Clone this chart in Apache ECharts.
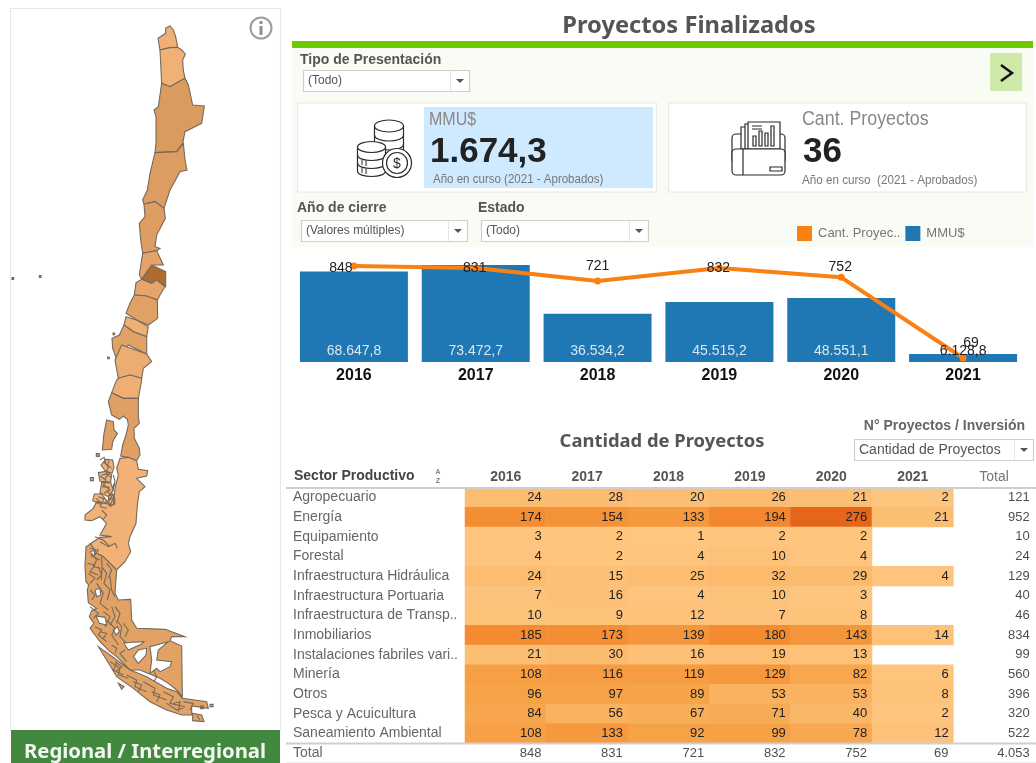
<!DOCTYPE html>
<html>
<head>
<meta charset="utf-8">
<title>Proyectos Finalizados</title>
<script src="https://cdn.jsdelivr.net/npm/echarts@6/dist/echarts.min.js"></script>
<style>
  html, body { margin: 0; padding: 0; background: #fff; }
  #main { width: 1036px; height: 763px; }
</style>
</head>
<body>
<div id="main"></div>
<script>
const years = ['2016', '2017', '2018', '2019', '2020', '2021']
const mmu = [68647.8, 73472.7, 36534.2, 45515.2, 48551.1, 6128.8]
const cantProyectos = [848, 831, 721, 832, 752, 69]

const sectores = [
  'Agropecuario', 'Energía', 'Equipamiento', 'Forestal', 'Infraestructura Hidráulica',
  'Infraestructura Portuaria', 'Infraestructura de Transp..', 'Inmobiliarios',
  'Instalaciones fabriles vari..', 'Minería', 'Otros', 'Pesca y Acuicultura', 'Saneamiento Ambiental'
]
const s2016 = [24, 174, 3, 4, 24, 7, 10, 185, 21, 108, 96, 84, 108]
const s2017 = [28, 154, 2, 2, 15, 16, 9, 173, 30, 116, 97, 56, 133]
const s2018 = [20, 133, 1, 4, 25, 4, 12, 139, 16, 119, 89, 67, 92]
const s2019 = [26, 194, 2, 10, 32, 10, 7, 180, 19, 129, 53, 71, 99]
const s2020 = [21, 276, 2, 4, 29, 3, 8, 143, 13, 82, 53, 40, 78]
const s2021 = [2, 21, null, null, 4, null, null, 14, null, 6, 8, 2, 12]
const totalSector = [121, 952, 10, 24, 129, 40, 46, 834, 99, 560, 396, 320, 522]
const totalAnio = [848, 831, 721, 832, 752, 69]
const totalGeneral = 4053

// valores estimados por el color de cada region
const regiones = ['Arica y Parinacota', 'Tarapacá', 'Antofagasta', 'Atacama', 'Coquimbo', 'Valparaíso',
  'Metropolitana', "O'Higgins", 'Maule', 'Ñuble', 'Biobío', 'La Araucanía', 'Los Ríos', 'Los Lagos', 'Aysén', 'Magallanes']
const regionValores = [110, 100, 360, 340, 330, 250, 900, 230, 290, 130, 280, 150, 130, 300, 90, 280]

// contornos del mapa, calcados a escala 3x; en el sur y lleva 1140 sumado
const contornos = {
  'Arica y Parinacota': [[[497, 100], [497, 84], [510, 78], [520, 90], [527, 110], [533, 142], [510, 143], [480, 150], [474, 115]]],
  'Tarapacá': [[[480, 150], [510, 143], [533, 142], [545, 150], [556, 162], [548, 180], [550, 212], [555, 235], [510, 260], [485, 250], [483, 210]]],
  'Antofagasta': [[[485, 250], [510, 260], [555, 235], [565, 255], [578, 315], [613, 318], [605, 370], [555, 395], [548, 430], [530, 455], [465, 458], [468, 430], [468, 350], [462, 330], [475, 320]]],
  'Atacama': [[[465, 458], [530, 455], [550, 430], [555, 480], [561, 510], [540, 515], [510, 570], [492, 625], [465, 605], [432, 612], [428, 600], [442, 570], [450, 520]]],
  'Coquimbo': [[[432, 612], [465, 605], [492, 625], [496, 655], [470, 705], [465, 740], [480, 745], [470, 752], [428, 760], [422, 720], [418, 670], [435, 650]]],
  'Valparaíso': [[[428, 760], [470, 752], [490, 795], [460, 795], [445, 830], [425, 838], [418, 825]]],
  'Metropolitana': [[[455, 795], [497, 815], [497, 860], [470, 840], [455, 850], [425, 838]]],
  "O'Higgins": [[[408, 848], [425, 838], [455, 850], [470, 840], [495, 860], [480, 885], [472, 900], [440, 888], [403, 885]]],
  'Maule': [[[403, 885], [440, 888], [472, 900], [473, 955], [445, 975], [410, 960], [378, 940], [390, 910]]],
  'Ñuble': [[[378, 950], [410, 960], [445, 980], [440, 1010], [400, 995], [372, 975]]],
  'Biobío': [[[372, 975], [400, 995], [440, 1010], [440, 1062], [385, 1035], [350, 1078], [338, 1045], [336, 1015], [358, 1005]], [[339, 999], [344, 999], [344, 1004], [339, 1004]], [[323, 1071], [328, 1071], [328, 1076], [323, 1076]]],
  'La Araucanía': [[[365, 1035], [440, 1062], [455, 1085], [430, 1105], [425, 1135], [390, 1125], [355, 1135], [345, 1080]]],
  'Los Ríos': [[[355, 1135], [390, 1125], [425, 1135], [425, 1140], [415, 1195], [370, 1195], [335, 1178], [350, 1140]]],
  'Los Lagos': [
    [[335, 1178], [370, 1195], [415, 1195], [415, 1250], [418, 1270], [402, 1285], [403, 1315], [418, 1345], [420, 1365], [410, 1382], [385, 1372], [362, 1368], [368, 1335], [378, 1305], [385, 1275], [382, 1258], [370, 1248], [358, 1258], [335, 1245], [325, 1205]],
    [[320, 1260], [340, 1265], [342, 1290], [352, 1300], [338, 1325], [335, 1348], [307, 1350], [312, 1300]],
    [[289, 1361], [298, 1361], [298, 1369], [289, 1369]]
  ],
  'Aysén': [
    [[360, 1375], [385, 1372], [410, 1382], [415, 1408], [443, 1412], [440, 1428], [410, 1435], [435, 1460], [418, 1475], [412, 1515], [408, 1570], [390, 1610], [385, 1630], [392, 1655], [375, 1685], [350, 1710], [310, 1670], [290, 1660], [270, 1632], [300, 1612], [335, 1610], [300, 1605], [320, 1570], [300, 1550], [275, 1562], [255, 1560], [255, 1545], [280, 1525], [290, 1505], [340, 1515], [345, 1465], [355, 1425], [350, 1405]],
    [[318, 1378], [338, 1380], [342, 1402], [336, 1420], [315, 1412], [303, 1395]],
    [[295, 1418], [318, 1414], [335, 1425], [332, 1446], [300, 1444]],
    [[305, 1448], [332, 1448], [340, 1470], [325, 1490], [300, 1478]],
    [[283, 1482], [305, 1482], [322, 1505], [300, 1512], [278, 1502]],
    [[325, 1488], [342, 1482], [345, 1512], [328, 1518]],
    [[271, 1433], [280, 1433], [280, 1442], [271, 1442]]
  ],
  'Magallanes': [
    [
      [[258, 1640], [272, 1632], [290, 1660], [310, 1670], [350, 1710], [345, 1780], [355, 1800], [392, 1798], [395, 1860], [410, 1885], [495, 1888], [555, 1910], [515, 1910], [510, 1922], [545, 1938], [547, 2090], [530, 2070], [505, 2050], [480, 2035], [420, 2010], [390, 2010], [350, 1970], [330, 1955], [300, 1925], [285, 1905], [270, 1885], [282, 1870], [268, 1850], [275, 1832], [290, 1825], [265, 1808], [262, 1770], [266, 1755], [258, 1745], [255, 1700]],
      [[375, 1935], [385, 1950], [425, 1932], [432, 1925], [372, 1928]],
      [[400, 1970], [415, 1990], [438, 1965], [440, 1945], [415, 1950]],
      [[450, 1940], [455, 1980], [450, 2020], [470, 2005], [480, 2015], [510, 2000], [515, 1985], [470, 1980], [475, 1950], [505, 1925]],
      [[285, 1770], [290, 1790], [302, 1785], [300, 1765]],
      [[288, 1848], [298, 1870], [320, 1875], [315, 1852]],
      [[340, 1890], [348, 1905], [358, 1895], [352, 1880]],
      [[272, 1655], [276, 1670], [284, 1665], [282, 1650]]
    ],
    [[[295, 1940], [330, 1965], [390, 2010], [440, 2030], [500, 2065], [530, 2075], [547, 2095], [620, 2105], [625, 2125], [575, 2118], [575, 2145], [545, 2145], [500, 2130], [450, 2105], [400, 2065], [350, 2030], [320, 1980]]],
    [[[578, 2140], [605, 2145], [612, 2165], [578, 2162]]],
    [[[630, 2113], [639, 2113], [639, 2120], [630, 2120]]],
    [[[602, 2118], [610, 2118], [610, 2126], [602, 2126]]],
    [[[355, 2050], [372, 2060], [365, 2068]]]
  ]
}
// dos puntos de las islas oceanicas, dibujados con Valparaíso
const islas = [[[36, 833], [41, 833], [41, 838], [36, 838]], [[118, 827], [123, 827], [123, 832], [118, 832]]]

// canales y fiordos del sur
const fiordos = [
  [[310, 1385], [325, 1400], [318, 1420], [333, 1432]], [[300, 1428], [318, 1440], [308, 1460], [328, 1462]],
  [[320, 1470], [335, 1490], [320, 1505], [335, 1520]], [[295, 1490], [312, 1496], [300, 1520], [320, 1525]],
  [[345, 1450], [335, 1480], [345, 1500]], [[328, 1382], [322, 1395], [334, 1405]], [[305, 1425], [325, 1422], [315, 1436]],
  [[312, 1455], [330, 1470], [312, 1480]], [[288, 1495], [300, 1505], [285, 1510]], [[300, 1380], [312, 1372], [318, 1390]],
  [[340, 1425], [345, 1445], [338, 1462]], [[326, 1500], [340, 1495], [332, 1512]], [[305, 1530], [320, 1545], [308, 1560]],
  [[270, 1645], [295, 1650], [280, 1670], [300, 1680]], [[262, 1690], [285, 1695], [270, 1715], [295, 1725]],
  [[300, 1625], [325, 1640], [345, 1630], [352, 1645]], [[285, 1610], [310, 1620], [330, 1640]], [[270, 1770], [285, 1785], [275, 1800]],
  [[305, 1700], [320, 1720], [312, 1750], [330, 1770], [322, 1800]], [[330, 1730], [335, 1770], [345, 1790]],
  [[290, 1750], [310, 1780], [300, 1810], [325, 1830]], [[285, 1880], [305, 1890], [295, 1905], [320, 1925]],
  [[320, 1860], [345, 1885], [335, 1905], [355, 1935]], [[350, 1860], [365, 1880], [360, 1910], [380, 1930]],
  [[370, 1870], [385, 1890], [375, 1910]], [[345, 1820], [360, 1840], [350, 1870]],
  [[305, 1670], [306, 1700], [304, 1740]], [[275, 1660], [290, 1680], [280, 1700], [300, 1705]],
  [[265, 1720], [285, 1735], [270, 1750]], [[295, 1700], [305, 1725], [290, 1740]], [[320, 1690], [335, 1710], [325, 1735]],
  [[270, 1820], [295, 1840], [280, 1855]], [[310, 1835], [330, 1850], [315, 1880]], [[335, 1820], [345, 1850], [330, 1875]],
  [[300, 1895], [320, 1900], [310, 1915]], [[335, 1935], [350, 1945], [345, 1960]], [[375, 1950], [360, 1960], [380, 1985]],
  [[330, 1985], [360, 2005], [355, 2025], [385, 2035]], [[380, 2025], [410, 2040], [405, 2060], [440, 2075]],
  [[430, 2045], [465, 2065], [460, 2085], [500, 2100]], [[490, 2075], [520, 2090], [510, 2110], [555, 2120]],
  [[550, 2105], [580, 2110], [570, 2130]], [[500, 2110], [530, 2130], [550, 2125]], [[345, 1985], [365, 2000], [350, 2012]],
  [[400, 2045], [425, 2055], [415, 2075]], [[455, 2075], [480, 2085], [470, 2105]], [[520, 2110], [540, 2105], [535, 2135]],
  [[460, 2010], [470, 2030], [462, 2045]], [[590, 2145], [600, 2160]], [[350, 1990], [340, 2010], [370, 2025]]
]

function chileGeo() {
  const toPx = (p) => [p[0] / 3, p[1] / 3]
  const ring = (r) => r.map(toPx)
  const features = regiones.map((name) => {
    const shapes = contornos[name]
    // un poligono simple es lista de puntos, con hoyos es lista de anillos
    const polys = shapes.map((s) => (typeof s[0][0] === 'number' ? [ring(s)] : s.map(ring)))
    if (name === 'Valparaíso') islas.forEach((s) => polys.push([ring(s)]))
    return { type: 'Feature', properties: { name }, geometry: { type: 'MultiPolygon', coordinates: polys } }
  })
  features.push({
    type: 'Feature',
    properties: { name: 'Fiordos' },
    geometry: { type: 'MultiLineString', coordinates: fiordos.map(ring) }
  })
  return { type: 'FeatureCollection', features }
}

const numero = (v, dec) => v.toLocaleString('es-CL', { minimumFractionDigits: dec, maximumFractionDigits: dec })

// elementos de la pagina
const TINTA = '#2b2b2b'
function txt(text, x, y, font, fill, align, angosto) {
  const el = { type: 'text', style: { text, x, y, font, fill, align: align || 'left', verticalAlign: 'middle' } }
  if (angosto) {
    el.scaleX = angosto
    el.originX = x
  }
  return el
}
function box(x, y, w, h, fill, stroke, r) {
  return { type: 'rect', shape: { x, y, width: w, height: h, r: r || 0 }, style: { fill, stroke: stroke || null, lineWidth: 1.2 } }
}
function line(x1, y1, x2, y2, stroke, width, z) {
  return { type: 'line', z: z || 0, shape: { x1, y1, x2, y2 }, style: { stroke, lineWidth: width } }
}
function combo(x, y, w, h, label, font) {
  return [
    box(x + 0.5, y + 0.5, w, h, '#fff', '#cfcfcf'),
    line(x + w - 18.5, y + 1, x + w - 18.5, y + h, '#e4e4e4', 1),
    { type: 'polygon', shape: { points: [[x + w - 13, y + 9], [x + w - 5, y + 9], [x + w - 9, y + 13]] }, style: { fill: '#555' } },
    txt(label, x + 5, y + h / 2 + 0.5, font || '12px "Liberation Sans"', '#555')
  ]
}
// curva inferior de un disco de la pila de monedas
function disco(cx, rx, y, ry) {
  return {
    type: 'bezierCurve',
    shape: { x1: cx - rx, y1: y, x2: cx + rx, y2: y, cpx1: cx - rx, cpy1: y + ry * 1.33, cpx2: cx + rx, cpy2: y + ry * 1.33 },
    style: { stroke: TINTA, lineWidth: 1.2, fill: null }
  }
}
function tapa(cx, cy, rx, ry) {
  return { type: 'ellipse', shape: { cx, cy, rx, ry }, style: { fill: '#fff', stroke: TINTA, lineWidth: 1.2 } }
}
function aro(cx, cy, r) {
  return { type: 'circle', shape: { cx, cy, r }, style: { fill: '#fff', stroke: TINTA, lineWidth: 1.2 } }
}

const iconoMonedas = [
  line(374.5, 126, 374.5, 145, TINTA, 1.2),
  line(403.5, 126, 403.5, 150, TINTA, 1.2),
  disco(389, 14.5, 135, 6),
  disco(389, 14.5, 144, 6),
  tapa(389, 126, 14.5, 6),
  box(357.5, 147, 28, 24, '#fff'),
  line(357.5, 147, 357.5, 171, TINTA, 1.2),
  line(385.5, 147, 385.5, 171, TINTA, 1.2),
  disco(371.5, 14, 155, 5.5),
  disco(371.5, 14, 163, 5.5),
  disco(371.5, 14, 171, 5.5),
  line(362, 160, 362, 165, TINTA, 1),
  line(366, 161, 366, 166, TINTA, 1),
  line(362, 168, 362, 173, TINTA, 1),
  line(366, 169, 366, 174, TINTA, 1),
  tapa(371.5, 147, 14, 5.5),
  aro(397, 163, 14.5),
  aro(397, 163, 10.5),
  txt('$', 397, 164, '14px "Liberation Sans"', TINTA, 'center')
]
const iconoCarpeta = [
  box(732, 134, 53, 30, '#fff', TINTA, 4),
  box(741, 127, 5, 22, '#fff', TINTA),
  box(745, 124, 4, 25, '#fff', TINTA),
  box(748, 122, 32, 27, '#fff', TINTA),
  line(752, 126, 762, 126, TINTA, 1),
  line(752, 129, 762, 129, TINTA, 1),
  box(753, 136, 3, 10, '#fff', TINTA),
  box(759, 131, 3, 15, '#fff', TINTA),
  box(765, 133, 3, 13, '#fff', TINTA),
  box(771, 126, 3, 20, '#fff', TINTA),
  box(732, 149, 53, 26, '#fff', TINTA, 4),
  line(743, 149, 743, 175, TINTA, 1.2),
  box(770, 167, 12, 4, '#fff', TINTA)
]

const graficos = [
  // mapa
  box(10.5, 8.5, 270, 722, '#fff', '#e6e6e6'),
  box(11, 730, 269, 33, '#43883f'),
  txt('Regional / Interregional', 145, 752, 'bold 20.3px "Noto Sans"', '#f2f7f0', 'center'),
  { type: 'circle', shape: { cx: 261, cy: 28, r: 10.5 }, style: { fill: '#fff', stroke: '#9b9b9b', lineWidth: 2 } },
  box(259.5, 26, 3, 9, '#8f8f8f'),
  box(259.5, 21, 3, 3, '#8f8f8f'),
  // cabecera
  txt('Proyectos Finalizados', 689, 26, 'bold 23.7px "Noto Sans"', '#555', 'center'),
  box(292, 41, 741, 7, '#6cc800'),
  box(292, 48, 741, 199, '#f9fcf5'),
  txt('Tipo de Presentación', 300, 60, 'bold 14px "Liberation Sans"', '#555'),
  ...combo(303, 70, 166, 21, '(Todo)'),
  box(990, 53, 32, 38, '#cfeaa8'),
  { type: 'polyline', shape: { points: [[1001, 65], [1012, 73], [1001, 81]] }, style: { stroke: '#111', fill: 'none', lineWidth: 2.5 } },
  // indicadores
  box(297.5, 103, 359, 89, '#fff', '#e8e8e8'),
  box(424, 107, 229, 81, '#cfe9ff'),
  txt('MMU$', 429, 120, '18px "Liberation Sans"', '#888', 'left', 0.89),
  txt('1.674,3', 430, 152, 'bold 35px "Liberation Sans"', '#222'),
  txt('Año en curso (2021 - Aprobados)', 433, 180, '12px "Liberation Sans"', '#777', 'left', 0.96),
  ...iconoMonedas,
  box(668.5, 103, 358, 89, '#fff', '#e8e8e8'),
  txt('Cant. Proyectos', 802, 119, '20px "Liberation Sans"', '#888', 'left', 0.89),
  txt('36', 803, 152, 'bold 35px "Liberation Sans"', '#222'),
  txt('Año en curso  (2021 - Aprobados)', 802, 181, '12px "Liberation Sans"', '#777', 'left', 0.97),
  ...iconoCarpeta,
  // filtros
  txt('Año de cierre', 297, 208, 'bold 14px "Liberation Sans"', '#555'),
  ...combo(301, 220, 166, 21, '(Valores múltiples)'),
  txt('Estado', 478, 208, 'bold 14px "Liberation Sans"', '#555'),
  ...combo(481, 220, 167, 21, '(Todo)'),
  // tabla
  txt('Cantidad de Proyectos', 662, 442, 'bold 18.4px "Noto Sans"', '#555', 'center'),
  txt('N° Proyectos / Inversión', 1025, 426, 'bold 14px "Liberation Sans"', '#666', 'right'),
  ...combo(854, 439, 179, 21, 'Cantidad de Proyectos', '14px "Liberation Sans"'),
  txt('Sector Productivo', 294, 476, 'bold 14px "Liberation Sans"', '#444'),
  txt('A', 438, 472, 'bold 7px "Liberation Sans"', '#888', 'center'),
  txt('Z', 438, 481, 'bold 7px "Liberation Sans"', '#777', 'center'),
  line(286, 488, 1036, 488, '#cfcfcf', 2, 10),
  line(286, 743.5, 1036, 743.5, '#cfcfcf', 2, 10),
  line(286, 762.5, 1036, 762.5, '#eeeeee', 1)
]

// datos de la tabla: columnas de anios y columna/fila de totales
const columnas = [s2016, s2017, s2018, s2019, s2020, s2021]
const celdas = []
columnas.forEach((col, x) => col.forEach((v, y) => { if (v !== null) celdas.push([x, y, v]) }))
const filaTotal = sectores.length
const totales = totalSector.map((v, y) => [years.length, y, v])
  .concat(totalAnio.map((v, x) => [x, filaTotal, v]))
totales.push([years.length, filaTotal, totalGeneral])

const posEtiquetas = [[-13, 2], [-1, 0], [0, -15], [-1, 0], [-1, -10], [8, -15]]

echarts.registerMap('chile', chileGeo())
const chart = echarts.init(document.getElementById('main'))
chart.setOption({
  animation: false,
  backgroundColor: '#fff',
  textStyle: { fontFamily: 'Liberation Sans' },
  graphic: graficos,
  legend: {
    left: 797,
    top: 226,
    padding: 0,
    itemWidth: 15,
    itemHeight: 15,
    itemGap: 5,
    selectedMode: false,
    textStyle: { fontSize: 13, color: '#777', padding: [0, 0, 0, 1] },
    data: [{ name: 'Cant. Proyec..', icon: 'rect' }, { name: 'MMU$', icon: 'rect' }]
  },
  visualMap: [
    {
      show: false,
      seriesIndex: 2,
      dimension: 2,
      min: 0,
      max: 276,
      inRange: { color: ['#fec680', '#f6a348', '#f58a30', '#e5651b'] }
    },
    {
      show: false,
      seriesIndex: 4,
      min: 90,
      max: 900,
      inRange: { color: ['#f2b277', '#ad6c30'] }
    }
  ],
  grid: [
    { left: 293, top: 258, width: 731, height: 104 },
    { left: 465, top: 487.7, width: 569.8, height: 275.3 }
  ],
  xAxis: [
    {
      type: 'category',
      gridIndex: 0,
      data: years,
      offset: 3,
      axisLine: { show: false },
      axisTick: { length: 3, lineStyle: { color: '#cccccc' } },
      axisLabel: { margin: 3, fontSize: 16, fontWeight: 'bold', color: '#111' }
    },
    {
      type: 'category',
      gridIndex: 1,
      position: 'top',
      data: years.map((y) => ({ value: y })).concat([{ value: 'Total', textStyle: { fontWeight: 'normal', color: '#777' } }]),
      axisLine: { show: false },
      axisTick: { show: false },
      axisLabel: { margin: 4, fontSize: 14, fontWeight: 'bold', color: '#555' }
    }
  ],
  yAxis: [
    { type: 'value', gridIndex: 0, min: 0, max: 78800, show: false },
    { type: 'value', gridIndex: 0, min: 35, max: 916, show: false },
    {
      type: 'category',
      gridIndex: 1,
      inverse: true,
      data: sectores.concat(['Total']),
      axisLine: { show: false },
      axisTick: { show: false },
      axisLabel: { align: 'left', margin: 172, fontSize: 14, color: '#666' }
    }
  ],
  series: [
    {
      name: 'MMU$',
      type: 'bar',
      xAxisIndex: 0,
      yAxisIndex: 0,
      barWidth: 108,
      barGap: '-100%',
      itemStyle: { color: '#1f77b4' },
      data: mmu
    },
    {
      name: 'Cant. Proyec..',
      type: 'line',
      xAxisIndex: 0,
      yAxisIndex: 1,
      z: 4,
      symbol: 'circle',
      symbolSize: 7,
      itemStyle: { color: '#f98012' },
      lineStyle: { color: '#f98012', width: 4 },
      data: cantProyectos.map((v, i) => ({
        value: v,
        label: { show: true, position: 'inside', offset: posEtiquetas[i], fontSize: 14, color: '#222' }
      }))
    },
    {
      name: 'Cantidad de Proyectos',
      type: 'heatmap',
      xAxisIndex: 1,
      yAxisIndex: 2,
      data: celdas,
      label: { show: true, position: 'insideRight', distance: 5, fontSize: 13, color: '#222', formatter: (p) => p.value[2] },
      emphasis: { disabled: true }
    },
    {
      name: 'Total',
      type: 'scatter',
      xAxisIndex: 1,
      yAxisIndex: 2,
      symbol: 'rect',
      symbolSize: [81.4, 19.66],
      itemStyle: { color: 'rgba(0,0,0,0)' },
      label: {
        show: true,
        position: 'insideRight',
        distance: 5,
        fontSize: 13,
        color: '#222',
        formatter: (p) => numero(p.value[2], 0)
      },
      data: totales,
      emphasis: { disabled: true }
    },
    {
      name: 'Regiones',
      type: 'map',
      map: 'chile',
      silent: true,
      selectedMode: false,
      showLegendSymbol: false,
      projection: { project: (p) => p, unproject: (p) => p },
      boundingCoords: [[0, 0], [285, 763]],
      left: 0,
      top: 0,
      width: 285,
      height: 763,
      aspectScale: 1,
      label: { show: false },
      itemStyle: { borderColor: '#75695d', borderWidth: 1.1, areaColor: 'transparent' },
      data: regiones.map((name, i) => ({ name, value: regionValores[i] }))
    },
    {
      // etiquetas de MMU$ por encima de la linea naranja
      name: 'MMU$ valores',
      type: 'bar',
      xAxisIndex: 0,
      yAxisIndex: 0,
      barWidth: 108,
      barGap: '-100%',
      z: 6,
      silent: true,
      itemStyle: { color: 'rgba(0,0,0,0)' },
      label: {
        show: true,
        position: 'insideBottom',
        distance: 4,
        fontSize: 14,
        color: '#dbe7f1',
        formatter: (p) => numero(p.value, 1)
      },
      data: mmu.map((v, i) => (i === 5 ? { value: v, label: { color: '#222' } } : v))
    }
  ]
})
</script>
</body>
</html>
